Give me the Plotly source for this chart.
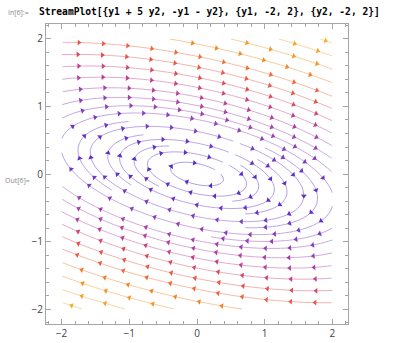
import math
import plotly.graph_objects as go

# ---- data: the vector field {y1 + 5 y2, -y1 - y2} on y1, y2 in [-2, 2] ----
FIELD_U = [1.0, 5.0]     # coefficients of (y1, y2) in first component
FIELD_V = [-1.0, -1.0]   # coefficients of (y1, y2) in second component
X_RANGE = [-2.0, 2.0]
Y_RANGE = [-2.0, 2.0]
SEED_POINTS_X = [0.35, 0.0, -1.0, 1.5]
SEED_POINTS_Y = [0.0, 1.2, -1.6, 1.8]
TICK_VALUES = [-2, -1, 0, 1, 2]
TICK_LABELS = ["\u22122", "\u22121", "0", "1", "2"]
TITLE_TEXT = "StreamPlot[{y1 + 5 y2, -y1 - y2}, {y1, -2, 2}, {y2, -2, 2}]"
IN_LABEL = "In[6]:="
OUT_LABEL = "Out[6]="

COLOR_POS = [0.0, 0.15, 0.27, 0.37, 0.49, 0.585, 0.665, 0.79, 0.94, 1.0]
COLOR_HEX = ["#4a28c8", "#6530c8", "#8040c0", "#a040b0", "#c04090",
             "#e05050", "#f06040", "#f59020", "#f5ac30", "#f6b438"]

H = 0.02
DSEP = 0.18
DTEST = 0.09
CELL = DTEST
SELF_GAP = 2.5 * DTEST
MAXSTEPS = 600
MIN_LEN = 0.12
ARROW_SP = 0.36


def vel(x, y):
    return FIELD_U[0] * x + FIELD_U[1] * y, FIELD_V[0] * x + FIELD_V[1] * y


def unit(x, y):
    u, v = vel(x, y)
    n = math.hypot(u, v)
    if n < 1e-9:
        return None
    return u / n, v / n


def rk4(x, y, h):
    k1 = unit(x, y)
    if k1 is None:
        return None
    k2 = unit(x + 0.5 * h * k1[0], y + 0.5 * h * k1[1])
    if k2 is None:
        return None
    k3 = unit(x + 0.5 * h * k2[0], y + 0.5 * h * k2[1])
    if k3 is None:
        return None
    k4 = unit(x + h * k3[0], y + h * k3[1])
    if k4 is None:
        return None
    return (x + h * (k1[0] + 2 * k2[0] + 2 * k3[0] + k4[0]) / 6.0,
            y + h * (k1[1] + 2 * k2[1] + 2 * k3[1] + k4[1]) / 6.0)


grid = {}


def key(x, y):
    return (int(math.floor((x + 3) / CELL)), int(math.floor((y + 3) / CELL)))


def add(x, y, lid, s):
    grid.setdefault(key(x, y), []).append((x, y, lid, s))


def remove_line(lid):
    for k in list(grid):
        grid[k] = [p for p in grid[k] if p[2] != lid]


def inside(x, y):
    return X_RANGE[0] <= x <= X_RANGE[1] and Y_RANGE[0] <= y <= Y_RANGE[1]


def too_close(x, y, d, lid=-1, s=0.0):
    i, j = key(x, y)
    r = int(math.ceil(d / CELL))
    d2 = d * d
    for a in range(i - r, i + r + 1):
        for b in range(j - r, j + r + 1):
            cell = grid.get((a, b))
            if not cell:
                continue
            for (px_, py_, pl, ps) in cell:
                if pl == lid and abs(ps - s) < SELF_GAP:
                    continue
                dx = px_ - x
                dy = py_ - y
                if dx * dx + dy * dy < d2:
                    return True
    return False


def trace(x0, y0, lid):
    add(x0, y0, lid, 0.0)
    halves = []
    for sign in (1.0, -1.0):
        x, y, s = x0, y0, 0.0
        seg = []
        for _ in range(MAXSTEPS):
            r = rk4(x, y, sign * H)
            if r is None:
                break
            nx, ny = r
            s += sign * H
            if not inside(nx, ny):
                break
            if math.hypot(*vel(nx, ny)) < 0.05:
                break
            if too_close(nx, ny, DTEST, lid, s):
                break
            add(nx, ny, lid, s)
            seg.append((nx, ny))
            x, y = nx, ny
        halves.append(seg)
    return halves[1][::-1] + [(x0, y0)] + halves[0]


lines = []
counter = [0]


def try_seed(x, y):
    if not inside(x, y):
        return None
    if math.hypot(*vel(x, y)) < 0.05:
        return None
    if too_close(x, y, DSEP * 0.98):
        return None
    lid = counter[0]
    counter[0] += 1
    pts = trace(x, y, lid)
    if (len(pts) - 1) * H < MIN_LEN:
        remove_line(lid)
        return None
    lines.append(pts)
    return pts


def process(queue):
    while queue:
        pts = queue.pop(0)
        stepk = max(1, int(DSEP / 2 / H))
        for i in range(0, len(pts), stepk):
            x, y = pts[i]
            d = unit(x, y)
            if d is None:
                continue
            nx, ny = -d[1], d[0]
            for sg in (1, -1):
                new = try_seed(x + sg * DSEP * nx, y + sg * DSEP * ny)
                if new:
                    queue.append(new)


for sx, sy in zip(SEED_POINTS_X, SEED_POINTS_Y):
    new = try_seed(sx, sy)
    if new:
        process([new])

g = DSEP / 2
n = int((X_RANGE[1] - X_RANGE[0]) / g) + 1
for i in range(n):
    for j in range(n):
        new = try_seed(X_RANGE[0] + i * g, Y_RANGE[0] + j * g)
        if new:
            process([new])

# ---- colours by speed ----
SMAX = max(math.hypot(*vel(cx, cy)) for cx in X_RANGE for cy in Y_RANGE)


def hex2rgb(h):
    return [int(h[k:k + 2], 16) for k in (1, 3, 5)]


STOPS = [hex2rgb(h) for h in COLOR_HEX]


def color_at(t, light=0.0):
    t = min(1.0, max(0.0, t))
    for k in range(len(COLOR_POS) - 1):
        if t <= COLOR_POS[k + 1]:
            f = (t - COLOR_POS[k]) / (COLOR_POS[k + 1] - COLOR_POS[k])
            c = [STOPS[k][m] + f * (STOPS[k + 1][m] - STOPS[k][m]) for m in range(3)]
            break
    else:
        c = STOPS[-1]
    c = [ci + light * (255 - ci) for ci in c]
    return "rgb(%d,%d,%d)" % tuple(int(round(v)) for v in c)


NB = 30
bins = {b: ([], []) for b in range(NB + 1)}
CH = 3
for pts in lines:
    for i in range(0, len(pts) - 1, CH):
        chunk = pts[i:i + CH + 1]
        mx, my = chunk[len(chunk) // 2]
        t = math.hypot(*vel(mx, my)) / SMAX
        b = int(round(t * NB))
        bx, by = bins[b]
        bx.extend([p[0] for p in chunk] + [None])
        by.extend([p[1] for p in chunk] + [None])

fig = go.Figure()
for b in range(NB + 1):
    bx, by = bins[b]
    if not bx:
        continue
    fig.add_trace(go.Scatter(x=bx, y=by, mode="lines", hoverinfo="skip",
                             line=dict(color=color_at(b / NB, 0.55), width=1)))

ax, ay, aang, acol = [], [], [], []
for pts in lines:
    L = (len(pts) - 1) * H
    na = max(1, int(L / ARROW_SP))
    off = (L - (na - 1) * ARROW_SP) / 2.0
    for k in range(na):
        idx = int(round((off + k * ARROW_SP) / H))
        idx = min(max(idx, 0), len(pts) - 1)
        x, y = pts[idx]
        d = unit(x, y)
        if d is None:
            continue
        ax.append(x)
        ay.append(y)
        aang.append(math.degrees(math.atan2(d[0], d[1])))
        acol.append(color_at(math.hypot(*vel(x, y)) / SMAX))

fig.add_trace(go.Scatter(x=ax, y=ay, mode="markers", hoverinfo="skip",
                         marker=dict(symbol="triangle-up", size=5, angle=aang,
                                     color=acol, line=dict(width=0))))

axis_common = dict(
    showgrid=False, zeroline=False, showline=True, linecolor="#a6a6a6", linewidth=1,
    mirror="ticks", ticks="inside", ticklen=5, tickcolor="#a6a6a6", tickwidth=1,
    tickvals=TICK_VALUES, ticktext=TICK_LABELS, automargin=False,
    tickfont=dict(family="Open Sans", size=10, color="#444444"),
    minor=dict(ticks="inside", ticklen=3, tickcolor="#a6a6a6", dtick=0.2, tick0=0, tickmode="linear"),
)
fig.update_xaxes(range=[-2.23, 2.23], **axis_common)
fig.update_yaxes(range=[-2.222, 2.222], **axis_common)

PL, PR, PT, PB = 46, 348, 24, 324


def px(xp):
    return (xp - PL) / (PR - PL)


def py(yp):
    return (PB - yp) / (PB - PT)


fig.update_layout(
    template="none",
    width=404, height=343, autosize=False,
    margin=dict(l=PL, r=404 - PR, t=PT, b=343 - PB, pad=0),
    plot_bgcolor="white", paper_bgcolor="white", showlegend=False,
    annotations=[
        dict(text="<b>" + TITLE_TEXT + "</b>", xref="paper", yref="paper",
             x=px(37), y=py(12), xanchor="left", yanchor="middle", showarrow=False,
             font=dict(family="DejaVu Sans Mono", size=9.6, color="#000000")),
        dict(text=IN_LABEL, xref="paper", yref="paper", x=px(6), y=py(12.5),
             xanchor="left", yanchor="middle", showarrow=False,
             font=dict(family="Open Sans", size=7, color="#888888")),
        dict(text=OUT_LABEL, xref="paper", yref="paper", x=px(3), y=py(180),
             xanchor="left", yanchor="middle", showarrow=False,
             font=dict(family="Open Sans", size=7, color="#888888")),
    ],
)

fig.write_html("out.html", config={"displayModeBar": False},
               post_script="document.body.style.margin='0';document.body.style.overflow='hidden';")
